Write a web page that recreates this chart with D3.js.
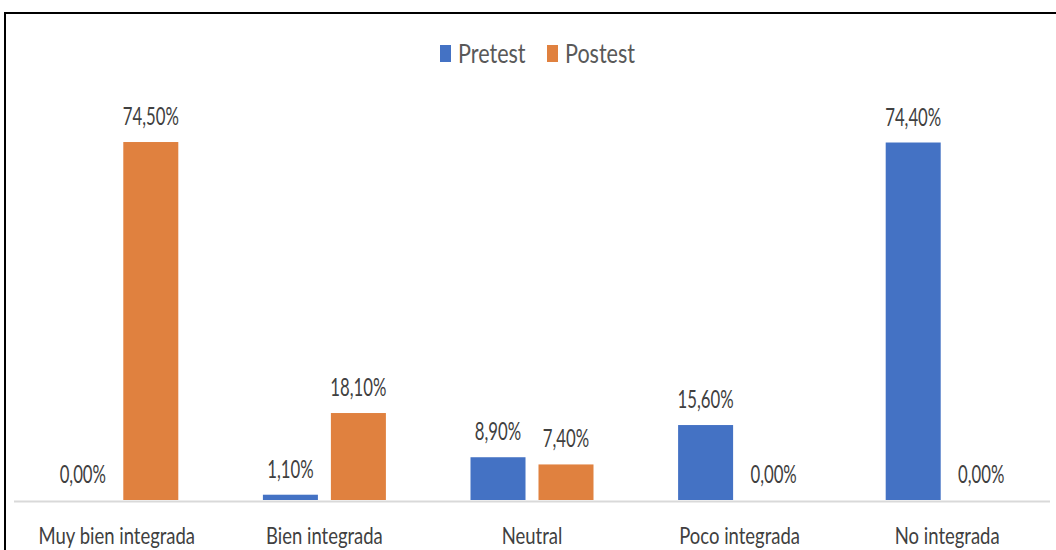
<!DOCTYPE html>
<html>
<head>
<meta charset="utf-8">
<script src="https://cdn.jsdelivr.net/npm/d3@7"></script>
<style>
  html, body { margin: 0; padding: 0; background: #ffffff; }
  svg { display: block; }
</style>
</head>
<body>
<svg id="chart"></svg>
<script>
const categories = ['Muy bien integrada', 'Bien integrada', 'Neutral', 'Poco integrada', 'No integrada'];
const seriesNames = ['Pretest', 'Postest'];
const pretest = [0.0, 1.1, 8.9, 15.6, 74.4];
const postest = [74.5, 18.1, 7.4, 0.0, 0.0];
const valueLabels = {
  Pretest: ['0,00%', '1,10%', '8,90%', '15,60%', '74,40%'],
  Postest: ['74,50%', '18,10%', '7,40%', '0,00%', '0,00%']
};

const WIDTH = 1056;
const HEIGHT = 550;
const COLORS = { Pretest: '#4472c4', Postest: '#e0813f' };
const FONT = 'Lato, "Open Sans", sans-serif';

const svg = d3.select('#chart')
  .attr('width', WIDTH)
  .attr('height', HEIGHT);

svg.append('rect')
  .attr('width', WIDTH)
  .attr('height', HEIGHT)
  .attr('fill', '#ffffff');

// chart frame, cut off by the right and bottom of the picture
svg.append('rect')
  .attr('x', 5)
  .attr('y', 13)
  .attr('width', 1080)
  .attr('height', 600)
  .attr('fill', 'none')
  .attr('stroke', '#000000')
  .attr('stroke-width', 2);

const x0 = d3.scaleBand()
  .domain(categories)
  .range([13, 1051]);

const x1 = d3.scaleBand()
  .domain(seriesNames)
  .range([-61.5, 61.5])
  .paddingInner(0.191);

const y = d3.scaleLinear()
  .domain([0, 80])
  .range([500, 115.6]);

const rows = categories.map((c, i) => ({
  category: c,
  values: [
    { key: 'Pretest', value: pretest[i], label: valueLabels.Pretest[i] },
    { key: 'Postest', value: postest[i], label: valueLabels.Postest[i] }
  ]
}));

// the source font is narrow and tall, so text is squeezed sideways
function squeezedText(parent, x, yPos, text, size, fill, sx, anchor) {
  parent.append('g')
    .attr('transform', `translate(${x},${yPos}) scale(${sx},1)`)
    .append('text')
    .attr('text-anchor', anchor || 'middle')
    .attr('font-family', FONT)
    .attr('font-size', size)
    .attr('fill', fill)
    .text(text);
}

const groups = svg.selectAll('g.cat')
  .data(rows)
  .join('g')
  .attr('class', 'cat')
  .attr('transform', d => `translate(${x0(d.category) + x0.bandwidth() / 2},0)`);

groups.selectAll('rect')
  .data(d => d.values)
  .join('rect')
  .attr('x', d => x1(d.key))
  .attr('y', d => y(d.value))
  .attr('width', x1.bandwidth())
  .attr('height', d => y(0) - y(d.value))
  .attr('fill', d => COLORS[d.key]);

groups.each(function (d) {
  const g = d3.select(this);
  d.values.forEach(v => {
    squeezedText(g, x1(v.key) + x1.bandwidth() / 2, y(v.value) - 17, v.label, 25, '#404040', 0.67);
  });
});

// baseline
svg.append('line')
  .attr('x1', 14)
  .attr('x2', 1050)
  .attr('y1', y(0) + 1.5)
  .attr('y2', y(0) + 1.5)
  .attr('stroke', '#d9d9d9')
  .attr('stroke-width', 2);

categories.forEach(c => {
  squeezedText(svg, x0(c) + x0.bandwidth() / 2, 544, c, 24, '#404040', 0.77);
});

// legend
const legendItems = [
  { key: 'Pretest', box: 440, text: 458 },
  { key: 'Postest', box: 547, text: 565 }
];
legendItems.forEach(item => {
  svg.append('rect')
    .attr('x', item.box)
    .attr('y', 45)
    .attr('width', 11)
    .attr('height', 17)
    .attr('fill', COLORS[item.key]);
  squeezedText(svg, item.text, 63, item.key, 26, '#595959', 0.83, 'start');
});
</script>
</body>
</html>
